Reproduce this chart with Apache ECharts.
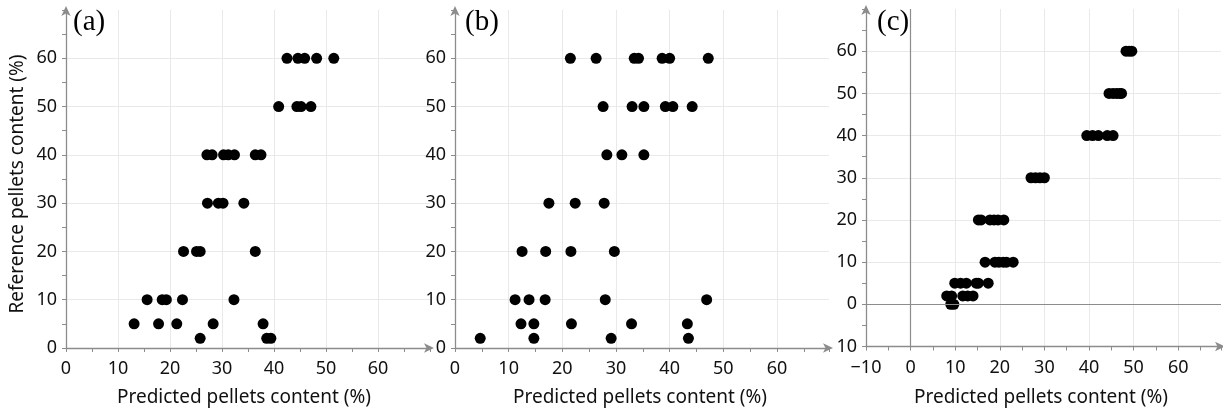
<!DOCTYPE html>
<html>
<head>
<meta charset="utf-8">
<script src="https://cdn.jsdelivr.net/npm/echarts@6/dist/echarts.min.js"></script>
<style>
html,body{margin:0;padding:0;background:#fff;}
#chart{width:1223px;height:412px;}
</style>
</head>
<body>
<div id="chart"></div>
<script>
// ---- Data ----
const panelLabels = ['(a)', '(b)', '(c)'];
const xTitle = 'Predicted pellets content (%)';
const yTitle = 'Reference pellets content (%)';

// Panel (a): predicted (x) vs reference (y)
const aX = [42.5, 44.6, 45.9, 48.2, 51.5,
            40.9, 44.4, 45.2, 47.1,
            27.1, 28.1, 30.3, 31.2, 32.4, 36.4, 37.5,
            27.2, 29.3, 30.2, 34.2,
            22.6, 25.1, 25.8, 36.4,
            15.6, 18.5, 19.3, 22.4, 32.3,
            13.1, 17.8, 21.3, 28.3, 37.9,
            25.8, 38.6, 39.4];
const aY = [60, 60, 60, 60, 60,
            50, 50, 50, 50,
            40, 40, 40, 40, 40, 40, 40,
            30, 30, 30, 30,
            20, 20, 20, 20,
            10, 10, 10, 10, 10,
            5, 5, 5, 5, 5,
            2, 2, 2];

// Panel (b)
const bX = [21.5, 26.3, 33.4, 34.2, 38.6, 40.0, 47.2,
            27.6, 33.0, 35.2, 39.2, 40.6, 44.2,
            28.3, 31.1, 35.2,
            17.5, 22.4, 27.8,
            12.5, 16.9, 21.6, 29.7,
            11.2, 13.8, 16.8, 28.0, 46.9,
            12.3, 14.7, 21.7, 32.9, 43.3,
            4.7, 14.7, 29.1, 43.5];
const bY = [60, 60, 60, 60, 60, 60, 60,
            50, 50, 50, 50, 50, 50,
            40, 40, 40,
            30, 30, 30,
            20, 20, 20, 20,
            10, 10, 10, 10, 10,
            5, 5, 5, 5, 5,
            2, 2, 2, 2];

// Panel (c)
const cX = [48.3, 49.0, 49.6,
            44.5, 45.4, 46.2, 46.9, 47.3,
            39.5, 40.8, 42.1, 44.1, 45.4,
            27.0, 28.0, 29.0, 30.0,
            15.2, 15.8, 17.8, 18.7, 19.6, 20.9,
            16.7, 18.9, 19.8, 20.8, 21.5, 23.0,
            9.9, 11.2, 12.5, 14.7, 15.2, 17.4,
            8.1, 9.2, 11.7, 12.8, 14.0,
            9.0, 9.7];
const cY = [60, 60, 60,
            50, 50, 50, 50, 50,
            40, 40, 40, 40, 40,
            30, 30, 30, 30,
            20, 20, 20, 20, 20, 20,
            10, 10, 10, 10, 10, 10,
            5, 5, 5, 5, 5, 5,
            2, 2, 2, 2, 2,
            0, 0];

// Tick labels
const abXTicks = [0, 10, 20, 30, 40, 50, 60];
const abYTicks = [0, 10, 20, 30, 40, 50, 60];
const cXTicks = [-10, 0, 10, 20, 30, 40, 50, 60];
const cXTickLabels = ['\u221210', '0', '10', '20', '30', '40', '50', '60'];
const cYTicks = [-10, 0, 10, 20, 30, 40, 50, 60];
const cYTickLabels = ['10', '0', '10', '20', '30', '40', '50', '60'];

function pairs(xs, ys) { return xs.map((x, i) => [x, ys[i]]); }

// ---- Styles ----
const FONT = '"Noto Sans", "Open Sans", sans-serif';
const axisColor = '#8c8c8c';
const gridColor = '#e9e9e9';
const textColor = '#111';

function makeAxis(gridIndex, min, max, ticks, labels, margin) {
  return {
    type: 'value', gridIndex, min, max, interval: 10,
    axisLine: { show: true, onZero: false, lineStyle: { color: axisColor, width: 1.3 },
                symbol: ['none', 'arrow'], symbolSize: [7, 10], symbolOffset: [0, 4] },
    axisTick: { show: true, length: 4, inside: false, lineStyle: { color: axisColor } },
    minorTick: { show: true, splitNumber: 2, length: 4, lineStyle: { color: axisColor } },
    minorSplitLine: { show: false },
    axisLabel: { customValues: ticks, color: textColor, fontSize: 18, fontFamily: FONT,
                 margin: margin,
                 formatter: (v) => { const i = ticks.indexOf(v); return i >= 0 ? labels[i] : ''; } },
    splitLine: { show: true, showMinLine: false, showMaxLine: false,
                 lineStyle: { color: gridColor, width: 1 } },
  };
}

const abLabels = abXTicks.map(String);
const titleFont = '19px ' + FONT;
const panelFont = '29px "Liberation Serif", "DejaVu Serif", serif';
const dot = { symbolSize: 11, itemStyle: { color: '#000', opacity: 1 } };

const option = {
  animation: false,
  backgroundColor: '#fff',
  grid: [
    { left: 66, top: 10, width: 364, height: 338 },
    { left: 455, top: 10, width: 374, height: 338 },
    { left: 866, top: 9, width: 355, height: 337.5 },
  ],
  xAxis: [
    makeAxis(0, 0, 70, abXTicks, abLabels, 12),
    makeAxis(1, 0, 69.7, abXTicks, abLabels, 12),
    makeAxis(2, -10, 69.6, cXTicks, cXTickLabels, 12),
  ],
  yAxis: [
    makeAxis(0, 0, 70, abYTicks, abYTicks.map(String), 9),
    makeAxis(1, 0, 70, abYTicks, abYTicks.map(String), 9),
    makeAxis(2, -10, 70, cYTicks, cYTickLabels, 9),
  ],
  series: [
    Object.assign({ type: 'scatter', xAxisIndex: 0, yAxisIndex: 0, data: pairs(aX, aY) }, dot),
    Object.assign({ type: 'scatter', xAxisIndex: 1, yAxisIndex: 1, data: pairs(bX, bY) }, dot),
    Object.assign({ type: 'scatter', xAxisIndex: 2, yAxisIndex: 2, data: pairs(cX, cY),
      markLine: { silent: true, symbol: ['none', 'none'], label: { show: false },
                  lineStyle: { color: '#8c8c8c', type: 'solid', width: 1.2 },
                  data: [{ xAxis: 0 }, { yAxis: 0 }] } }, dot),
  ],
  graphic: [
    { type: 'text', left: 73, top: 8, style: { text: panelLabels[0], font: panelFont, fill: '#000' } },
    { type: 'text', left: 465, top: 8, style: { text: panelLabels[1], font: panelFont, fill: '#000' } },
    { type: 'text', left: 877, top: 8, style: { text: panelLabels[2], font: panelFont, fill: '#000' } },
    { type: 'text', x: 244, y: 398, style: { text: xTitle, font: titleFont, fill: textColor, align: 'center', verticalAlign: 'middle' } },
    { type: 'text', x: 640, y: 398, style: { text: xTitle, font: titleFont, fill: textColor, align: 'center', verticalAlign: 'middle' } },
    { type: 'text', x: 1041, y: 398, style: { text: xTitle, font: titleFont, fill: textColor, align: 'center', verticalAlign: 'middle' } },
    { type: 'text', x: 18, y: 184, rotation: Math.PI / 2, style: { text: yTitle, font: titleFont, fill: textColor, align: 'center', verticalAlign: 'middle' } },
  ],
};

const chart = echarts.init(document.getElementById('chart'), null, { renderer: 'canvas' });
chart.setOption(option);
</script>
</body>
</html>
